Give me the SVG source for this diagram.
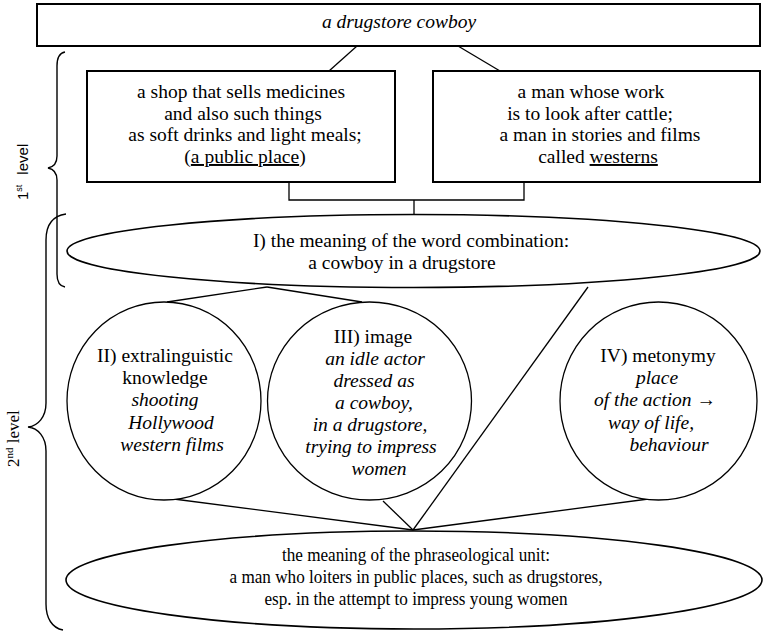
<svg xmlns="http://www.w3.org/2000/svg" width="764" height="633" viewBox="0 0 764 633">
<style>
  .box { fill: #fff; stroke: #000; stroke-width: 2; }
  .ell { fill: #fff; stroke: #000; stroke-width: 1.6; }
  .cir { fill: #fff; stroke: #000; stroke-width: 1.3; }
  .con { fill: none; stroke: #000; stroke-width: 1.3; }
  .brace { fill: none; stroke: #000; stroke-width: 1.4; }
  text { font-family: "Liberation Serif", "Times New Roman", serif; font-size: 19.5px; fill: #000; text-anchor: middle; }
  .it { font-style: italic; }
  .u { text-decoration: underline; }
  .lbl1 { font-family: "Liberation Sans", Arial, sans-serif; font-size: 15px; text-anchor: start; }
  .lbl2 { font-size: 17px; text-anchor: start; }
</style>
<rect width="764" height="633" fill="#fff"/>

<g id="braces">
  <path class="brace" d="M65,52 C59,53 57,58 57,66 L57,156 C57,163 53,167 48,168 C53,169 57,173 57,180 L57,274 C57,281 59,286 65,287"/>
  <path class="brace" d="M66,214 C52,216 46,226 46,240 L46,403 C46,417 38,426 28,427 C38,428 46,437 46,451 L46,604 C46,618 52,628 63,630"/>
  <text class="lbl1" transform="translate(28,200) rotate(-90)">1<tspan font-size="9" dy="-6">st</tspan><tspan dx="10" dy="6">level</tspan></text>
  <text class="lbl2" transform="translate(19,467) rotate(-90)">2<tspan font-size="11" dy="-6">nd</tspan><tspan dy="6"> level</tspan></text>
</g>

<g id="connectors">
  <line class="con" x1="357" y1="46" x2="329" y2="71"/>
  <line class="con" x1="458" y1="46" x2="500" y2="71"/>
  <polyline class="con" points="289,182 289,200 524,200 524,182"/>
  <line class="con" x1="414" y1="200" x2="414" y2="215"/>
  <line class="con" x1="267" y1="287" x2="167" y2="302"/>
  <line class="con" x1="267" y1="287" x2="362" y2="302"/>
  <line class="con" x1="588" y1="287" x2="413" y2="530"/>
  <line class="con" x1="166" y1="498" x2="413" y2="530"/>
  <line class="con" x1="383" y1="501" x2="413" y2="530"/>
  <line class="con" x1="656" y1="498" x2="413" y2="530"/>
</g>

<g id="top">
  <rect class="box" x="37" y="4" width="723" height="42"/>
  <text class="it" x="399" y="28" font-size="19">a drugstore cowboy</text>
</g>

<g id="shop">
  <rect class="box" x="87" y="71" width="308" height="111"/>
  <text x="241" y="98">a shop that sells medicines</text>
  <text x="243" y="120">and also such things</text>
  <text x="245" y="141">as soft drinks and light meals;</text>
  <text x="245" y="163">(<tspan class="u">a public place</tspan>)</text>
</g>

<g id="man">
  <rect class="box" x="433" y="71" width="327" height="111"/>
  <text x="591" y="98">a man whose work</text>
  <text x="590" y="120">is to look after cattle;</text>
  <text x="600" y="141">a man in stories and films</text>
  <text x="598" y="163">called <tspan class="u">westerns</tspan></text>
</g>

<g id="meaning-word">
  <ellipse class="ell" cx="413.5" cy="251" rx="346.5" ry="36.5"/>
  <text x="411" y="247">I) the meaning of the word combination:</text>
  <text x="402" y="269">a cowboy in a drugstore</text>
</g>

<g id="extralinguistic">
  <ellipse class="cir" cx="164" cy="401" rx="97" ry="99"/>
  <text x="165" y="362">II) extralinguistic</text>
  <text x="165" y="384">knowledge</text>
  <text class="it" x="165" y="406">shooting</text>
  <text class="it" x="171" y="429">Hollywood</text>
  <text class="it" x="172" y="451">western films</text>
</g>

<g id="image">
  <ellipse class="cir" cx="369.5" cy="401" rx="102" ry="99"/>
  <text x="373" y="343">III) image</text>
  <text class="it" x="375" y="365">an idle actor</text>
  <text class="it" x="374" y="387">dressed as</text>
  <text class="it" x="374" y="409">a cowboy,</text>
  <text class="it" x="370" y="431">in a drugstore,</text>
  <text class="it" x="371" y="453">trying to impress</text>
  <text class="it" x="379" y="475">women</text>
</g>

<g id="metonymy">
  <ellipse class="cir" cx="658.5" cy="401" rx="98.5" ry="99"/>
  <text x="658" y="362">IV) metonymy</text>
  <text class="it" x="657" y="384">place</text>
  <text class="it" x="655" y="406">of the action →</text>
  <text class="it" x="651" y="429">way of life,</text>
  <text class="it" x="669" y="451">behaviour</text>
</g>

<g id="meaning-unit">
  <ellipse class="ell" cx="414" cy="580" rx="348" ry="49"/>
  <g transform="translate(416,0) scale(0.88,1)">
    <text x="0" y="561">the meaning of the phraseological unit:</text>
    <text x="0" y="583">a man who loiters in public places, such as drugstores,</text>
    <text x="0" y="605">esp. in the attempt to impress young women</text>
  </g>
</g>
</svg>
